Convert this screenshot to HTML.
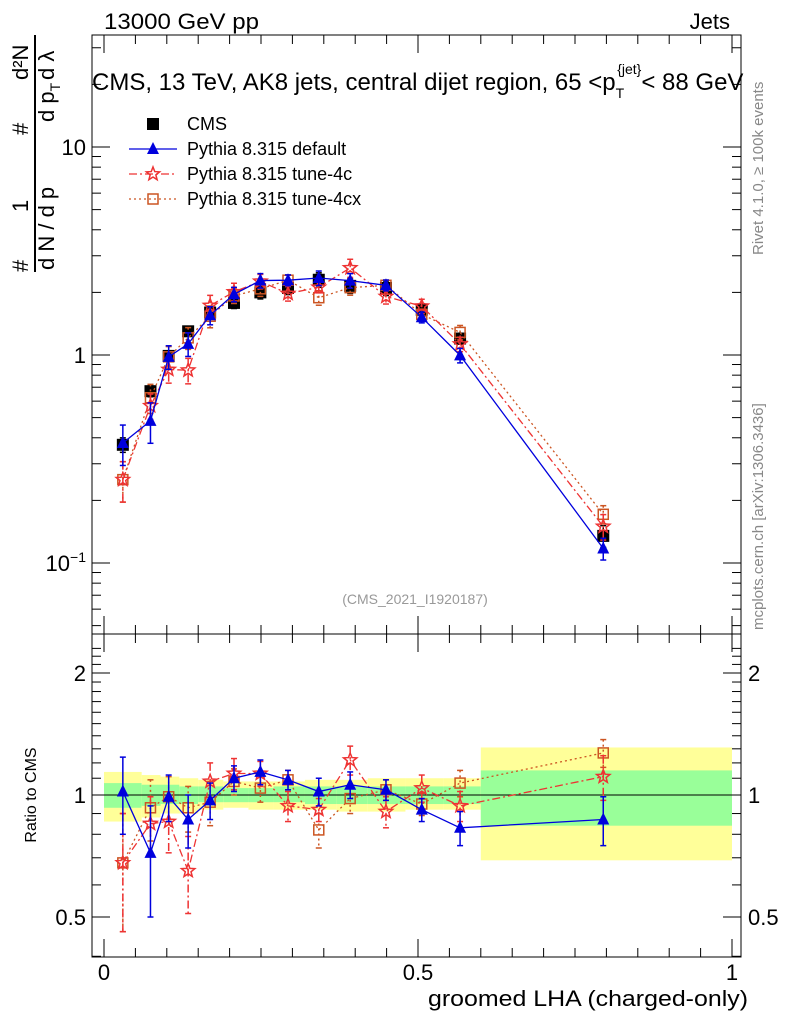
<!DOCTYPE html>
<html><head><meta charset="utf-8"><style>
body{margin:0;background:#fff}
svg{font-family:"Liberation Sans",sans-serif}
</style></head><body>
<svg id="c" width="786" height="1024" xmlns="http://www.w3.org/2000/svg">
<g id="bands"></g>
<g id="frames"></g>
<g id="series"></g>
<g id="txt">
<text x="104" y="29" font-size="22" textLength="155" lengthAdjust="spacingAndGlyphs">13000 GeV pp</text>
<text x="730" y="29" font-size="22" text-anchor="end">Jets</text>
<text x="92" y="90" font-size="24">CMS, 13 TeV, AK8 jets, central dijet region, 65 &lt;p<tspan font-size="14" dy="8">T</tspan><tspan font-size="14" dy="-24" dx="-7">{jet}</tspan><tspan dy="16">&lt; 88 GeV</tspan></text>
<text x="415" y="604" font-size="14" fill="#999" text-anchor="middle">(CMS_2021_I1920187)</text>
<text x="763" y="255" font-size="15" fill="#888" transform="rotate(-90 763 255)">Rivet 4.1.0, ≥ 100k events</text>
<text x="763" y="630" font-size="15" fill="#888" transform="rotate(-90 763 630)">mcplots.cern.ch [arXiv:1306.3436]</text>
<text x="748" y="1006" font-size="22" text-anchor="end" textLength="320" lengthAdjust="spacingAndGlyphs">groomed LHA (charged-only)</text>
<text x="36" y="795" font-size="16" text-anchor="middle" transform="rotate(-90 36 795)">Ratio to CMS</text>
<g transform="rotate(-90 0 0)" font-size="22">
<text x="-272" y="28">#</text>
<text x="-270" y="54">d N / d p</text>
<text x="-212" y="28">1</text>
<line x1="-272" y1="35" x2="-35" y2="35" stroke="#000" stroke-width="2"/>
<text x="-135" y="28">#</text>
<text x="-122" y="54">d p<tspan font-size="14" dy="6">T</tspan></text>
<text x="-80" y="28">d²N</text>
<text x="-80" y="54">d λ</text>
</g>
</g>
<g id="legend"></g>
</svg>
<script>
const xs=[0.03,0.074,0.103,0.134,0.169,0.207,0.249,0.293,0.342,0.392,0.449,0.506,0.567,0.795];
const cms=[0.37,0.67,0.99,1.3,1.6,1.78,2.0,2.1,2.3,2.15,2.1,1.65,1.2,0.135];
const cmsErr=[0.08,0.06,0.05,0.05,0.06,0.06,0.07,0.07,0.08,0.08,0.08,0.07,0.06,0.12];
const rDef=[1.02,0.72,0.99,0.87,0.97,1.1,1.14,1.09,1.02,1.06,1.03,0.92,0.83,0.87];
const rDefErr=[0.22,0.22,0.13,0.13,0.1,0.08,0.08,0.06,0.08,0.08,0.06,0.06,0.08,0.12];
const r4c=[0.68,0.85,0.86,0.65,1.08,1.13,1.13,0.94,0.92,1.22,0.91,1.04,0.94,1.11];
const r4cErr=[0.22,0.14,0.14,0.14,0.12,0.1,0.08,0.08,0.06,0.1,0.08,0.08,0.08,0.14];
const r4cx=[0.68,0.93,0.99,0.93,0.96,1.08,1.04,1.09,0.82,0.98,1.03,0.95,1.07,1.27];
const r4cxErr=[0.22,0.16,0.12,0.12,0.12,0.08,0.08,0.06,0.08,0.08,0.06,0.06,0.08,0.1];
const binEdges=[0,0.06,0.09,0.12,0.15,0.19,0.23,0.27,0.32,0.37,0.42,0.48,0.54,0.6,1.0];
const yelLo=[0.86,0.88,0.9,0.9,0.92,0.93,0.92,0.92,0.92,0.91,0.91,0.92,0.92,0.69];
const yelHi=[1.14,1.12,1.11,1.1,1.09,1.08,1.08,1.08,1.09,1.09,1.1,1.1,1.1,1.31];
const grnLo=[0.93,0.94,0.95,0.95,0.96,0.96,0.96,0.96,0.95,0.95,0.95,0.95,0.95,0.84];
const grnHi=[1.07,1.06,1.06,1.05,1.05,1.04,1.04,1.05,1.05,1.05,1.05,1.05,1.05,1.15];
const mainTicks=["10","1"],mainTickVals=[10,1];
const xTicks=[0,0.5,1],xTickLabels=["0","0.5","1"];
const rTicks=[0.5,1,2];

const NS="http://www.w3.org/2000/svg";
const X=v=>104+628*v;
const Y=v=>355-208*Math.log10(v);
const R=v=>795-405.3*Math.log10(v);
function mk(p,t,a){const e=document.createElementNS(NS,t);for(const k in a)e.setAttribute(k,a[k]);document.getElementById(p).appendChild(e);return e;}

binEdges.slice(0,-1).forEach((e,i)=>{
 const x1=X(e),x2=X(binEdges[i+1]);
 let r=mk('bands','rect',{x:x1,y:R(yelHi[i]),width:x2-x1,height:R(yelLo[i])-R(yelHi[i]),fill:'#ffff99'});
 
 
 r=mk('bands','rect',{x:x1,y:R(grnHi[i]),width:x2-x1,height:R(grnLo[i])-R(grnHi[i]),fill:'#99ff99'});
 
 
});
let l=mk('frames','line',{x1:92,x2:741,y1:795,y2:795,stroke:'#000','stroke-width':1});


[[35,634],[634,957]].forEach(([a,b])=>{const f=mk('frames','rect',{x:92,y:a,width:649,height:b-a,fill:'none',stroke:'#000','stroke-width':1});
 
 });
for(let d=-2;d<=1;d++)for(let m=1;m<10;m++){const v=m*Math.pow(10,d),y=Y(v);if(y<35||y>634)continue;const len=m==1?18:9;
 mk('frames','line',{x1:92,x2:92+len,y1:y,y2:y,stroke:'#000'});mk('frames','line',{x1:741,x2:741-len,y1:y,y2:y,stroke:'#000'});}
mainTickVals.forEach((v,i)=>{const t=mk('txt','text',{x:86,y:Y(v)+8,'font-size':22,'text-anchor':'end'});t.textContent=mainTicks[i];
 
 });
const t01=mk('txt','text',{x:86,y:Y(0.1)+8,'font-size':22,'text-anchor':'end'});t01.innerHTML='10<tspan font-size="14" dy="-9">−1</tspan>';


for(let v=0.4;v<=2.4;v+=0.1){const y=R(v);if(y<634||y>957)continue;const maj=[0.5,1,2].some(q=>Math.abs(q-v)<1e-6);const len=maj?18:9;
 mk('frames','line',{x1:92,x2:92+len,y1:y,y2:y,stroke:'#000'});mk('frames','line',{x1:741,x2:741-len,y1:y,y2:y,stroke:'#000'});}
rTicks.forEach(v=>{[[86,'end'],[748,'start']].forEach(([x,a])=>{const t=mk('txt','text',{x:x,y:R(v)+8,'font-size':22,'text-anchor':a});t.textContent=String(v);
 
 });});
for(let v=0;v<=1.0001;v+=0.05){const x=X(v),maj=Math.abs(v*2-Math.round(v*2))<1e-6,len=maj?18:9;
 [[35,1],[634,1],[634,-1],[957,-1]].forEach(([y,s])=>mk('frames','line',{x1:x,x2:x,y1:y,y2:y+s*len,stroke:'#000'}));}
xTicks.forEach((v,i)=>{const t=mk('txt','text',{x:X(v),y:980,'font-size':22,'text-anchor':'middle'});t.textContent=xTickLabels[i];
 
 });

function marker(g,type,x,y,col){
 if(type=='sq')mk(g,'rect',{x:x-6,y:y-6,width:12,height:12,fill:'#000'});
 else if(type=='tri')mk(g,'polygon',{points:`${x},${y-7} ${x-6},${y+5} ${x+6},${y+5}`,fill:col});
 else if(type=='osq')mk(g,'rect',{x:x-5,y:y-5,width:10,height:10,fill:'none',stroke:col,'stroke-width':1.5});
 else{let p=[];for(let k=0;k<10;k++){const r=k%2?3:7,a=-Math.PI/2+k*Math.PI/5;p.push((x+r*Math.cos(a))+','+(y+r*Math.sin(a)));}mk(g,'polygon',{points:p.join(' '),fill:'none',stroke:col,'stroke-width':1.5});}
}
function series(name,vals,errs,col,dash,type,isRatio,rel){
 const g=mk('series','g',{});g.id=name;
 
 
 const F=isRatio?R:Y;
 if(dash!==null)mk(name,'polyline',{points:xs.map((x,i)=>X(x)+','+F(vals[i])).join(' '),fill:'none',stroke:col,'stroke-width':1.3,'stroke-dasharray':dash});
 xs.forEach((x,i)=>{const v=vals[i],e=rel?errs[i]*v:errs[i];
  mk(name,'line',{x1:X(x),x2:X(x),y1:F(v+e),y2:F(Math.max(v-e,0.01)),stroke:col,'stroke-width':1.5,'stroke-dasharray':dash||''});
  [v+e,Math.max(v-e,0.01)].forEach(q=>mk(name,'line',{x1:X(x)-3,x2:X(x)+3,y1:F(q),y2:F(q),stroke:col,'stroke-width':1.5}));
  marker(name,type,X(x),F(v),col);});
}
const def=cms.map((c,i)=>c*rDef[i]),c4=cms.map((c,i)=>c*r4c[i]),c4x=cms.map((c,i)=>c*r4cx[i]);
series('cms-series',cms,cmsErr,'#000',null,'sq',false,true);
series('pythia-4cx-series',c4x,r4cxErr,'#cc5522','2,3','osq',false,true);
series('pythia-4c-series',c4,r4cErr,'#ee3333','8,3,2,3','star',false,true);
series('pythia-default-series',def,rDefErr,'#0000dd','','tri',false,true);
series('ratio-4cx-series',r4cx,r4cxErr,'#cc5522','2,3','osq',true,false);
series('ratio-4c-series',r4c,r4cErr,'#ee3333','8,3,2,3','star',true,false);
series('ratio-default-series',rDef,rDefErr,'#0000dd','','tri',true,false);
const leg=[['CMS','#000',null,'sq'],['Pythia 8.315 default','#0000dd','','tri'],['Pythia 8.315 tune-4c','#ee3333','8,3,2,3','star'],['Pythia 8.315 tune-4cx','#cc5522','2,3','osq']];
leg.forEach((d,i)=>{const y=124+25*i;const g=mk('legend','g',{});g.id='leg'+i;
 
 
 if(d[2]!==null)mk('leg'+i,'line',{x1:129,x2:177,y1:y,y2:y,stroke:d[1],'stroke-width':1.3,'stroke-dasharray':d[2]});
 marker('leg'+i,d[3],153,y,d[1]);
 const t=mk('leg'+i,'text',{x:187,y:y+6,'font-size':18});t.textContent=d[0];});
</script>
</body></html>
